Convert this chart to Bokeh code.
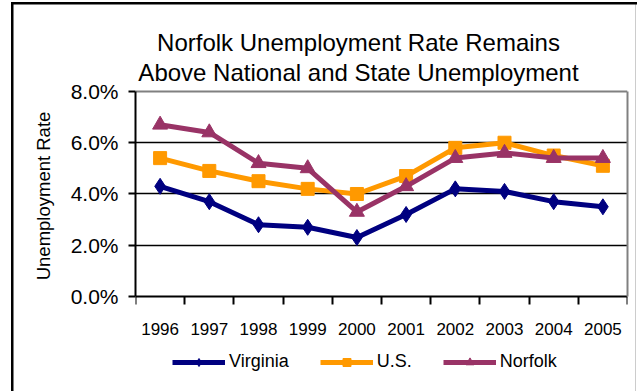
from bokeh.plotting import figure
from bokeh.models import (Range1d, FixedTicker, PrintfTickFormatter, Legend, LegendItem, Label,
                          LinearAxis, Grid)
from bokeh.embed import file_html
from bokeh.resources import INLINE

years = [1996, 1997, 1998, 1999, 2000, 2001, 2002, 2003, 2004, 2005]
virginia = [4.3, 3.7, 2.8, 2.7, 2.3, 3.2, 4.2, 4.1, 3.7, 3.5]
us = [5.4, 4.9, 4.5, 4.2, 4.0, 4.7, 5.8, 6.0, 5.5, 5.1]
norfolk = [6.7, 6.4, 5.2, 5.0, 3.3, 4.3, 5.4, 5.6, 5.4, 5.4]
y_ticks = [0, 2, 4, 6, 8]
title_lines = ["Norfolk Unemployment Rate Remains", "Above National and State Unemployment"]

FONT = "Liberation Sans"
Y_MIN, Y_MAX = 0, 8
# the frame fills the whole window height so that title and legend fit inside it;
# the value axis is bounded to 0-8 % and the x axis is pinned at 0 %
Y_LOW, Y_HIGH = -3.707, 11.55

p = figure(frame_width=492, frame_height=391, output_backend="svg", toolbar_location=None,
           x_range=Range1d(years[0] - 0.5, years[-1] + 0.5), y_range=Range1d(Y_LOW, Y_HIGH),
           min_border_left=135, min_border_right=10, min_border_top=0, min_border_bottom=0)
p.background_fill_color = "white"
p.background_fill_alpha = 0
p.border_fill_color = "white"
p.border_fill_alpha = 0
p.outline_line_color = None
p.styles = {
    "background": ("linear-gradient(#000, #000) 11px 2px / 2.5px 100% no-repeat, "
                   "linear-gradient(#000, #000) 11px 2px / 100% 2.5px no-repeat, "
                   "linear-gradient(#ccc, #ccc) 635px 2px / 1px 100% no-repeat, white"),
}

bounds = [y - 0.5 for y in years] + [years[-1] + 0.5]
xa = p.xaxis[0]
xa.fixed_location = Y_MIN
xa.ticker = FixedTicker(ticks=years, minor_ticks=bounds)
xa.major_tick_out = 0
xa.major_tick_in = 0
xa.minor_tick_out = 8
xa.minor_tick_in = 0
xa.minor_tick_line_color = "black"
xa.minor_tick_line_width = 2
xa.axis_line_color = "black"
xa.axis_line_width = 2
xa.major_label_text_font = FONT
xa.major_label_text_font_size = "17px"
xa.major_label_text_color = "black"
xa.major_label_standoff = 19

ya = p.yaxis[0]
ya.bounds = (Y_MIN, Y_MAX)
ya.ticker = FixedTicker(ticks=y_ticks, minor_ticks=[])
ya.formatter = PrintfTickFormatter(format="%.1f%%")
ya.major_tick_out = 7
ya.major_tick_in = 0
ya.major_tick_line_width = 2
ya.major_tick_line_color = "black"
ya.axis_line_color = "black"
ya.axis_line_width = 2
ya.major_label_text_font = FONT
ya.major_label_text_font_size = "21px"
ya.major_label_text_color = "black"
ya.major_label_standoff = 10
ya.axis_label = "Unemployment Rate"
ya.axis_label_text_font = FONT
ya.axis_label_text_font_size = "18.5px"
ya.axis_label_text_font_style = "normal"
ya.axis_label_text_color = "black"
ya.axis_label_standoff = 14

p.xgrid.visible = False
p.ygrid.ticker = FixedTicker(ticks=[2, 4, 6])
p.ygrid.grid_line_color = "black"
p.ygrid.grid_line_width = 1.5

# grey plot-area border: top line at 8 % and right edge
p.add_layout(Grid(dimension=1, ticker=FixedTicker(ticks=[Y_MAX]),
                  grid_line_color="#808080", grid_line_width=2))
right_axis = LinearAxis(bounds=(Y_MIN, Y_MAX), ticker=FixedTicker(ticks=[], minor_ticks=[]),
                        major_tick_out=0, major_tick_in=0, major_label_text_alpha=0,
                        axis_line_color="#808080", axis_line_width=2)
p.add_layout(right_axis, "right")

series = [("Virginia", virginia, "#000080", "diamond", 16),
          ("U.S.", us, "#FF9900", "square", 13),
          ("Norfolk", norfolk, "#993366", "triangle", 15)]
items = []
for name, vals, color, marker, size in series:
    r1 = p.line(years, vals, line_color=color, line_width=5)
    r2 = p.scatter(years, vals, marker=marker, size=size, fill_color=color, line_color=color)
    items.append(LegendItem(label=name, renderers=[r1, r2]))

legend = Legend(items=items, orientation="horizontal", location=(33, 15),
                glyph_width=53, glyph_height=20, label_standoff=4, spacing=31,
                padding=4, margin=0, border_line_alpha=0, background_fill_alpha=0,
                label_text_font=FONT, label_text_font_size="18px", label_text_color="black")
p.add_layout(legend, "center")

title_pos = [(223, 349), (223, 319)]
for t, (tx, ty) in zip(title_lines, title_pos):
    p.add_layout(Label(x=tx, y=ty, x_units="screen", y_units="screen", text=t,
                       text_align="center", text_baseline="alphabetic",
                       text_font=FONT, text_font_size="24px", text_color="black"))

open("out.html", "w").write(file_html(p, INLINE))
